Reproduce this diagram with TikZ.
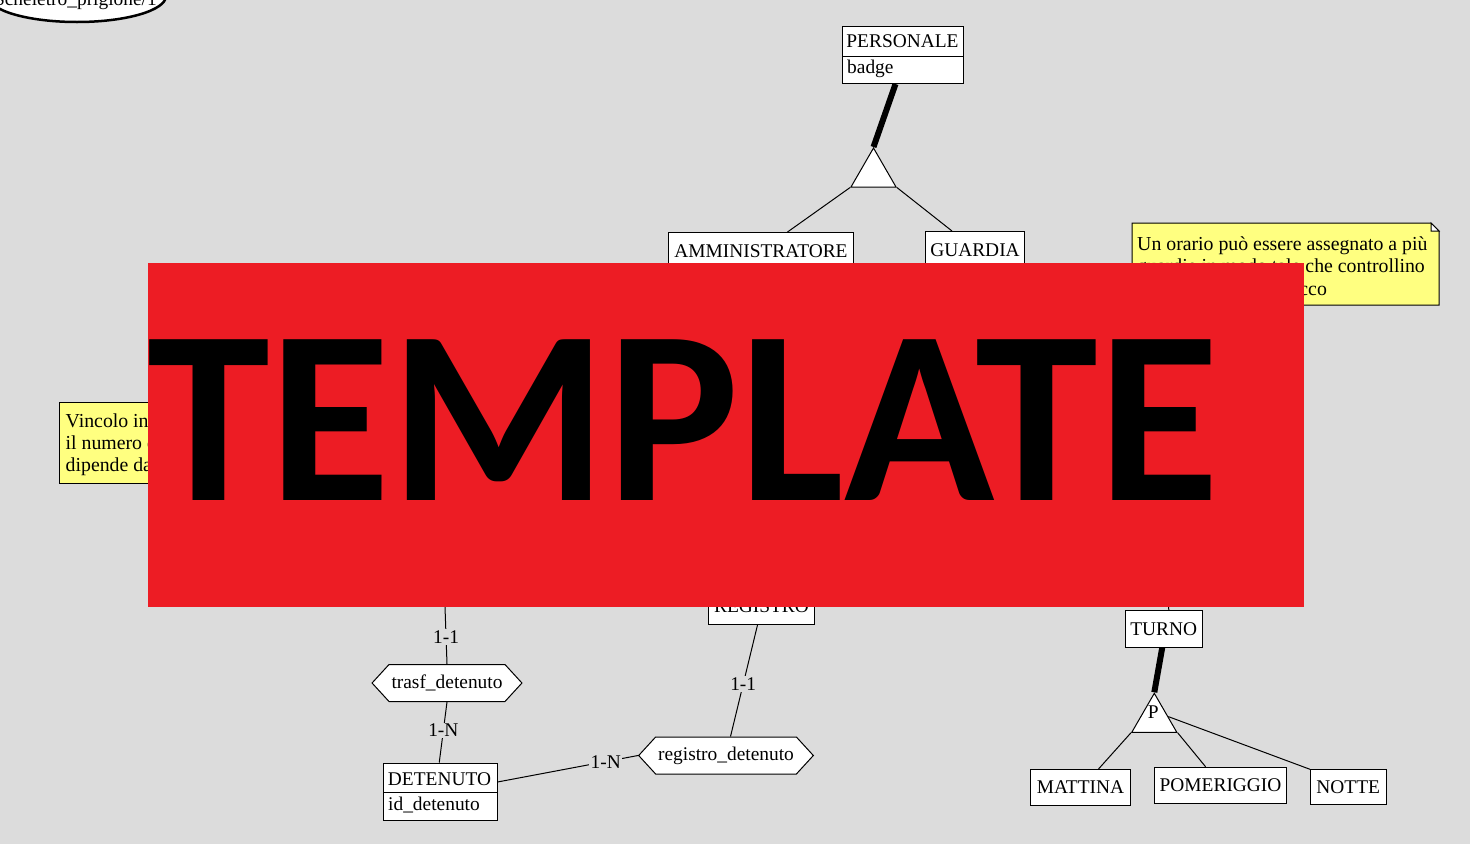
\documentclass[tikz,border=0pt]{standalone}
\usepackage{fontspec}
\setmainfont{Liberation Serif}
\newfontfamily\tplfont{Carlito}
\usetikzlibrary{shapes.geometric,shapes.symbols,calc}
\definecolor{bg}{RGB}{220,220,220}
\definecolor{notey}{RGB}{255,255,128}
\definecolor{banner}{RGB}{237,28,36}
\tikzset{
  x=1pt, y=-1pt,
  txt/.style={font=\fontsize{19.4}{22}\selectfont, inner sep=0pt},
  notetxt/.style={font=\fontsize{19.8}{22}\selectfont, inner sep=0pt, anchor=base west},
  ent/.style={draw=black, fill=white, line width=1pt, inner sep=0pt, anchor=north west, txt},
  rel/.style={signal, signal to=east and west, signal pointer angle=95, draw=black, fill=white,
    line width=1pt, txt, inner xsep=2.5pt, inner ysep=0pt, minimum height=37pt},
  isa/.style={regular polygon, regular polygon sides=3, draw=black, fill=white, line width=1pt,
    minimum size=52pt, inner sep=0pt},
  link/.style={line width=1pt},
  heavylink/.style={line width=6pt},
  card/.style={fill=bg, txt, inner sep=1.5pt},
  notebox/.style={draw=black, fill=notey, line width=1pt}
}
\begin{document}
\begin{tikzpicture}
\useasboundingbox (0,0) rectangle (1470,844);
\clip (0,0) rectangle (1470,844);
\fill[bg] (0,0) rectangle (1470,844);

% partial ellipse top-left
\node[draw=black, fill=white, ellipse, line width=2.5pt, minimum width=178pt, minimum height=52pt] (ell) at (77,-4) {};
\node[txt, anchor=base east] (elltxt) at (157,5) {Scheletro\_prigione/1};

% PERSONALE
\node[ent, minimum width=121pt, minimum height=57pt] (pers) at (842,26) {};
\draw[link] ($(pers.north west)+(0,30)$) -- ($(pers.north east)+(0,30)$);
\node[txt, anchor=base] (persname) at (902.5,47.5) {PERSONALE};
\node[txt, anchor=base west] (persattr) at (847,73) {badge};

% generalization triangle 1
\node[isa] (gen1) at (873.5,174) {};
\draw[heavylink] ([xshift=-7.5pt]pers.south) -- (gen1.corner 1);

\node[ent, minimum width=185pt, minimum height=37pt] (amm) at (668,232) {AMMINISTRATORE};
\node[ent, minimum width=99pt, minimum height=37pt] (gua) at (925,231) {GUARDIA};
\draw[link] (gen1.corner 2) -- ([xshift=26.5pt]amm.north);
\draw[link] (gen1.corner 3) -- ([xshift=-23pt]gua.north);

% right note
\draw[notebox] (1132,223) -- (1431,223) -- (1439,231) -- (1439,305) -- (1132,305) -- cycle;
\draw[link, fill=white] (1431,223) -- (1431,231) -- (1439,231) -- cycle;
\node[notetxt] (n1a) at (1137,250) {Un orario può essere assegnato a più};
\node[notetxt] (n1b) at (1137,272.5) {guardie in modo tale che controllino};
\node[notetxt] (n1c) at (1137,295) {ognuna un unico blocco};

% left note
\draw[notebox] (59,402) rectangle (420,483);
\node[notetxt] (n2a) at (65.5,427) {Vincolo interrelazionale:};
\node[notetxt] (n2b) at (65.5,449) {il numero di guardie};
\node[notetxt] (n2c) at (65.5,471) {dipende dal turno};

% REGISTRO
\node[ent, minimum width=106pt, minimum height=37pt] (reg) at (708,587) {REGISTRO};

% TURNO
\node[ent, minimum width=76.5pt, minimum height=36.5pt] (tur) at (1125,610) {TURNO};
\coordinate (turtop) at (1168,560);
\draw[link] (turtop) -- ([xshift=5pt]tur.north);

% relationships
\node[rel] (trasf) at (447,683) {trasf\_detenuto};
\node[rel] (regdet) at (726,755.5) {registro\_detenuto};

% DETENUTO
\node[ent, minimum width=113.5pt, minimum height=57.5pt] (det) at (383,762.5) {};
\draw[link] ($(det.north west)+(0,29.5)$) -- ($(det.north east)+(0,29.5)$);
\node[txt, anchor=base] (detname) at (439.5,785) {DETENUTO};
\node[txt, anchor=base west] (detattr) at (388,810) {id\_detenuto};

\coordinate (trtop) at (445,607);
\draw[link] (trtop) -- node[card, pos=0.52] (c1) {1-1} (trasf.north);
\draw[link] (trasf.south) -- node[card, pos=0.47] (c2) {1-N} ([xshift=-1pt]det.north);
\draw[link] ($(det.north east)+(0,19.5)$) -- node[card, pos=0.77] (c3) {1-N} (regdet.west);
\draw[link] ([xshift=-4pt]reg.south) -- node[card, pos=0.53] (c4) {1-1} ([xshift=4.5pt]regdet.north);

% generalization P
\node[isa] (gen2) at (1154.3,719.3) {};
\node[txt, anchor=base] (plab) at (1153.3,718.3) {P};
\draw[heavylink] ([xshift=-1.5pt]tur.south) -- (gen2.corner 1);

\node[ent, minimum width=100pt, minimum height=36pt] (mat) at (1030,769) {MATTINA};
\node[ent, minimum width=131.5pt, minimum height=36.5pt] (pom) at (1154.3,766.7) {POMERIGGIO};
\node[ent, minimum width=75.5pt, minimum height=35pt] (not) at (1310,769.3) {NOTTE};
\draw[link] (gen2.corner 2) -- ([xshift=18pt]mat.north);
\draw[link] (gen2.corner 3) -- ([xshift=-15pt]pom.north);
\draw[link] ($(gen2.corner 1)!0.6!(gen2.corner 3)$) -- (not.north west);

% TEMPLATE banner
\fill[banner] (148,263) rectangle (1304,607);
\node[anchor=base west, inner sep=0pt, font=\tplfont\bfseries\fontsize{248}{248}\selectfont] (tpl) at (147,500) {TEMPLATE};
\end{tikzpicture}
\end{document}
